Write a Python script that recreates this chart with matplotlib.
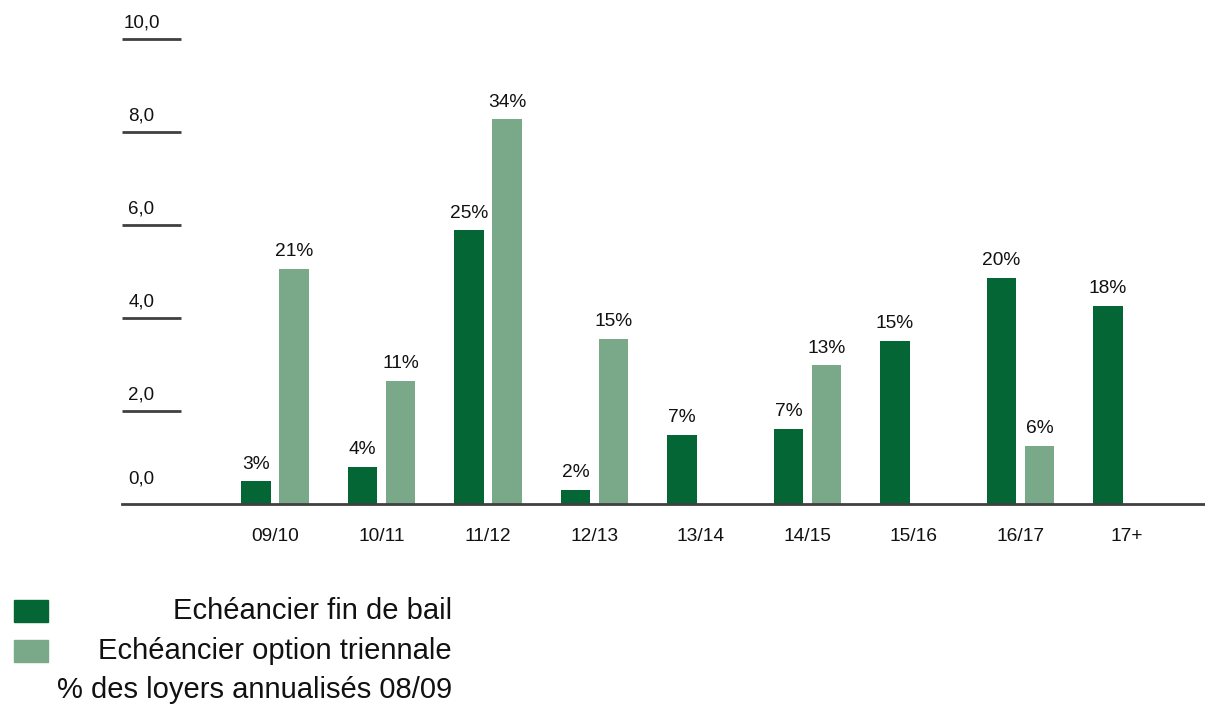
import matplotlib
matplotlib.use("Agg")
import matplotlib.pyplot as plt
from matplotlib.patches import Rectangle

plt.rcParams['font.family'] = ['Liberation Sans', 'DejaVu Sans']

categories = ["09/10", "10/11", "11/12", "12/13", "13/14", "14/15", "15/16", "16/17", "17+"]
fin_de_bail = [0.49, 0.80, 5.89, 0.30, 1.49, 1.62, 3.51, 4.86, 4.26]
fin_labels = ["3%", "4%", "25%", "2%", "7%", "7%", "15%", "20%", "18%"]
option_triennale = [5.06, 2.65, 8.27, 3.55, None, 2.98, None, 1.25, None]
option_labels = ["21%", "11%", "34%", "15%", None, "13%", None, "6%", None]
yticks = [0.0, 2.0, 4.0, 6.0, 8.0, 10.0]
ytick_labels = ["0,0", "2,0", "4,0", "6,0", "8,0", "10,0"]
legend_labels = ["Echéancier fin de bail", "Echéancier option triennale"]
note = "% des loyers annualisés 08/09"

DARK = "#036634"
LIGHT = "#79a988"
AXC = "#404040"
TXT = "#111111"

W, H = 1205, 711
fig = plt.figure(figsize=(W / 100, H / 100), dpi=100)

# axes: pixel x 122..1205, y 504 (0) .. 39 (10)
left_px, right_px = 122, 1205
y0_px, y10_px = 504, 39
ax = fig.add_axes([left_px / W, (H - y0_px) / H, (right_px - left_px) / W, (y0_px - y10_px) / H])
ax.set_ylim(0, 10)
spacing = 106.5
center0 = 275
ax.set_xlim((left_px - center0) / spacing, (right_px - center0) / spacing)

bw = 0.28
off = 0.178
for i, cat in enumerate(categories):
    v = fin_de_bail[i]
    ax.bar(i - off, v, width=bw, color=DARK, edgecolor="none", zorder=2)
    ax.annotate(fin_labels[i], (i - off, v), xytext=(0, 12.3), textcoords="offset points",
                ha="center", va="center", fontsize=13.8, color=TXT)
    v2 = option_triennale[i]
    if v2 is not None:
        ax.bar(i + off, v2, width=bw, color=LIGHT, edgecolor="none", zorder=2)
        ax.annotate(option_labels[i], (i + off, v2), xytext=(0, 12.3), textcoords="offset points",
                    ha="center", va="center", fontsize=13.8, color=TXT)

ax.set_xticks(range(len(categories)))
ax.set_xticklabels(categories, fontsize=13.8, color=TXT)
ax.tick_params(axis="x", length=0, pad=17)
ax.set_yticks([])
for s in ["top", "left", "right"]:
    ax.spines[s].set_visible(False)
ax.spines["bottom"].set_color(AXC)
ax.spines["bottom"].set_linewidth(2)
ax.spines["bottom"].set_zorder(3)

# custom y tick lines with labels above
tr = ax.get_yaxis_transform()
tick_len = (180.7 - left_px) / (right_px - left_px)
label_x = (141.5 - left_px) / (right_px - left_px)
for v, lab in zip(yticks, ytick_labels):
    if v > 0:
        ax.plot([0, tick_len], [v, v], transform=tr, color=AXC, lw=2, clip_on=False,
                solid_capstyle="butt")
    dy = 11.5 if v > 0 else 18
    ax.annotate(lab, (label_x, v), xycoords=tr, xytext=(0, dy), textcoords="offset points",
                ha="center", va="center", fontsize=13.5, color=TXT, annotation_clip=False)

# legend
def px(x, y):
    return x / W, 1 - y / H

for (ytop, col) in [(600, DARK), (640, LIGHT)]:
    fig.patches.append(Rectangle(px(14, ytop + 21.7), 33.7 / W, 21.7 / H,
                                 transform=fig.transFigure, color=col))
fig.text(*px(452, 611), legend_labels[0], ha="right", va="center", fontsize=21, color=TXT)
fig.text(*px(452, 651), legend_labels[1], ha="right", va="center", fontsize=21, color=TXT)
fig.text(*px(452, 690), note, ha="right", va="center", fontsize=21, color=TXT)

fig.savefig("out.png", dpi=100)
